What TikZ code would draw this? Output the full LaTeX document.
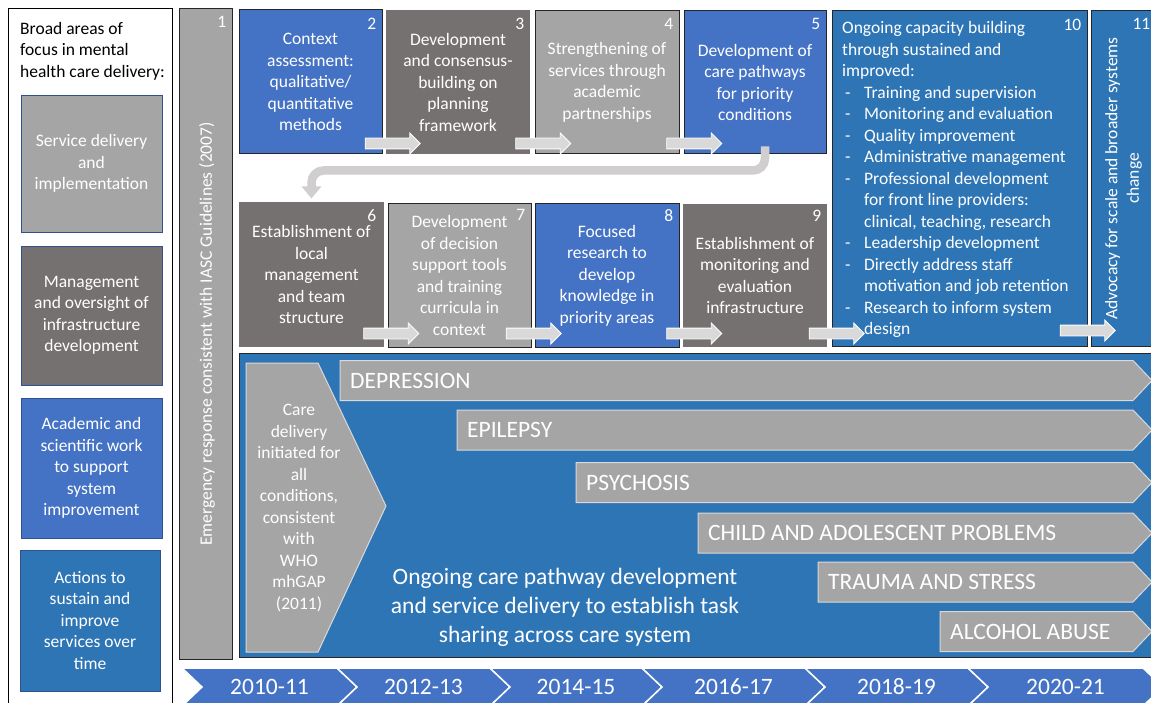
\documentclass[tikz,border=0pt]{standalone}
\usepackage{fontspec}
\setmainfont{Carlito}
\usetikzlibrary{shapes.arrows,arrows.meta}

\definecolor{accblue}{HTML}{4472C4}
\definecolor{deepblue}{HTML}{2E75B6}
\definecolor{darkgrey}{HTML}{767171}
\definecolor{midgrey}{HTML}{A5A5A5}
\definecolor{palegrey}{HTML}{D9D9D9}
\definecolor{turngrey}{HTML}{D0CECE}
\definecolor{edgeblue}{HTML}{2F528F}
\definecolor{edgedark}{HTML}{262626}

\newcommand{\boxfont}{\fontsize{17.5}{21.5}\selectfont}
\newcommand{\bigfont}{\fontsize{23.5}{29}\selectfont}
\newcommand{\dashitem}{\makebox[22pt][l]{\hspace{3pt}-}}
\newcommand{\hangitem}{\hspace*{22pt}}

\tikzset{
  stage/.style={draw=edgedark, line width=1pt, inner sep=0pt, align=center, text=white,
    font=\boxfont, minimum width=144pt, minimum height=143pt},
  plainstage/.style={stage, draw=none},
  legend/.style={draw=edgeblue, line width=0.8pt, inner sep=0pt, align=center, text=white,
    font=\boxfont, minimum width=141pt},
  num/.style={anchor=north east, inner sep=0pt, text=white, font=\boxfont},
  fwd/.style={single arrow, fill=palegrey, draw=white, line width=0.8pt, inner sep=5pt,
    single arrow head extend=5pt, minimum height=55pt},
  uturn/.style={draw=turngrey, line width=8.5pt, rounded corners=12pt},
  cond/.style={fill=midgrey, draw=palegrey, line width=1pt},
  condtext/.style={anchor=west, inner sep=0pt, text=white, font=\bigfont},
  year/.style={fill=accblue, draw=white, line width=1.5pt},
}

\begin{document}
\begin{tikzpicture}[x=1pt,y=-1pt]
\useasboundingbox (0,0) rectangle (1151,703);

% legend column
\draw[line width=1pt] (8,9) rectangle (172,712);
\node[anchor=west, align=left, inner sep=0pt, font=\boxfont] (head) at (20,51)
  {Broad areas of\\focus in mental\\health care delivery:};
\node[legend, fill=midgrey, minimum height=137pt] (l1) at (91.5,163.5) {Service delivery\\and\\implementation};
\node[legend, fill=darkgrey, minimum height=139pt] (l2) at (91.5,315.5) {Management\\and oversight of\\infrastructure\\development};
\node[legend, fill=accblue, minimum height=140pt] (l3) at (91.5,468) {Academic and\\scientific work\\to support\\system\\improvement};
\node[legend, fill=deepblue, minimum height=141pt, minimum width=140pt] (l4) at (90,620.5) {Actions to\\sustain and\\improve\\services over\\time};

% step 1
\node[stage, fill=midgrey, minimum width=53pt, minimum height=650pt] (b1) at (205.5,334) {};
\node[rotate=90, inner sep=0pt, text=white, font=\boxfont] (t1) at ([xshift=1.5pt]b1.center)
  {Emergency response consistent with IASC Guidelines (2007)};

% top row
\node[stage, fill=accblue, minimum width=143pt, minimum height=144pt] (b2) at (310.5,82)
  {Context\\assessment:\\qualitative/\\quantitative\\methods};
\node[plainstage, fill=darkgrey, minimum height=144pt] (b3) at (458,82)
  {Development\\and consensus-\\building on\\planning\\framework};
\node[stage, fill=midgrey] (b4) at (607,82.5)
  {Strengthening of\\services through\\academic\\partnerships};
\node[stage, fill=accblue, minimum width=142pt] (b5) at (755,82.5)
  {Development of\\care pathways\\for priority\\conditions};

% second row
\node[plainstage, fill=darkgrey, minimum width=145pt, minimum height=145pt] (b6) at (311.5,274.5)
  {Establishment of\\local\\management\\and team\\structure};
\node[stage, fill=midgrey, minimum width=143pt] (b7) at (459.5,275.5)
  {Development\\of decision\\support tools\\and training\\curricula in\\context};
\node[stage, fill=accblue] (b8) at (607,275.5)
  {Focused\\research to\\develop\\knowledge in\\priority areas};
\node[plainstage, fill=darkgrey] (b9) at (755,275.5)
  {Establishment of\\monitoring and\\evaluation\\infrastructure};

% steps 10 and 11
\node[stage, fill=deepblue, minimum width=255pt, minimum height=335pt] (b10) at (959.5,178.5) {};
\node[anchor=west, align=left, inner sep=0pt, text=white, font=\boxfont] (t10) at (842,179.5)
  {Ongoing capacity building\\through sustained and\\improved:\\
   \dashitem Training and supervision\\
   \dashitem Monitoring and evaluation\\
   \dashitem Quality improvement\\
   \dashitem Administrative management\\
   \dashitem Professional development\\
   \hangitem for front line providers:\\
   \hangitem clinical, teaching, research\\
   \dashitem Leadership development\\
   \dashitem Directly address staff\\
   \hangitem motivation and job retention\\
   \dashitem Research to inform system\\
   \hangitem design};
\node[stage, fill=deepblue, minimum width=65pt, minimum height=335pt] (b11) at (1123.5,178.5) {};
\node[rotate=90, align=center, inner sep=0pt, text=white, font=\boxfont] (t11) at (b11.center)
  {Advocacy for scale and broader systems\\change};

% step numbers
\node[num] (n1) at ([xshift=-6pt,yshift=-8pt]b1.north east) {1};
\node[num] (n2) at ([xshift=-6pt,yshift=-8pt]b2.north east) {2};
\node[num] (n3) at ([xshift=-6pt,yshift=-8pt]b3.north east) {3};
\node[num] (n4) at ([xshift=-6pt,yshift=-8pt]b4.north east) {4};
\node[num] (n5) at ([xshift=-6pt,yshift=-8pt]b5.north east) {5};
\node[num] (n6) at ([xshift=-8pt,yshift=-8pt]b6.north east) {6};
\node[num] (n7) at ([xshift=-6pt,yshift=-6pt]b7.north east) {7};
\node[num] (n8) at ([xshift=-6pt,yshift=-6pt]b8.north east) {8};
\node[num] (n9) at ([xshift=-6pt,yshift=-6pt]b9.north east) {9};
\node[num] (n10) at ([xshift=-6pt,yshift=-8pt]b10.north east) {10};
\node[num] (n11) at ([xshift=-6pt,yshift=-8pt]b11.north east) {11};

% arrows between steps
\node[fwd] (a23) at ([xshift=7.5pt,yshift=11pt]b2.south east) {};
\node[fwd] (a34) at ([xshift=10pt,yshift=11pt]b3.south east) {};
\node[fwd] (a45) at ([xshift=12pt,yshift=11pt]b4.south east) {};
\node[fwd] (a67) at ([xshift=4pt,yshift=14pt]b6.south east) {};
\node[fwd] (a78) at ([xshift=-0.5pt,yshift=14pt]b7.south east) {};
\node[fwd] (a89) at ([xshift=12pt,yshift=14pt]b8.south east) {};
\node[fwd] (a910) at ([xshift=6.5pt,yshift=14pt]b9.south east) {};
\node[fwd] (a1011) at ([xshift=-2.5pt,yshift=16pt]b10.south east) {};
\draw[uturn, -{Triangle[width=19pt,length=12pt]}, shorten >=3pt]
  ([xshift=10pt,yshift=8pt]b5.south) |- ([yshift=31pt]b6.north) -- (b6.north);

% care delivery panel
\node[stage, fill=deepblue, anchor=north west, minimum width=925pt, minimum height=304pt] (pan) at (239,353) {};
\draw[fill=midgrey, draw=palegrey, line width=1pt] (246,363) -- (318,363) -- (386,506) -- (318,652) -- (246,652) -- cycle;
\node[align=center, inner sep=0pt, text=white, font=\boxfont] (care) at (299,508)
  {Care\\delivery\\initiated for\\all\\conditions,\\consistent\\with\\WHO\\mhGAP\\(2011)};
\foreach \x/\y/\t [count=\i] in {340/380.5/DEPRESSION, 457/430/EPILEPSY, 576/482.5/PSYCHOSIS,
    698/533/CHILD AND ADOLESCENT PROBLEMS, 818/582/TRAUMA AND STRESS, 940/631.5/ALCOHOL ABUSE} {
  \draw[cond] (\x,\y-20) -- (1133,\y-20) -- (1152,\y) -- (1133,\y+20) -- (\x,\y+20) -- cycle;
  \node[condtext] (c\i) at (\x+10,\y) {\t};
}
\node[align=center, inner sep=0pt, text=white, font=\bigfont] (ongoing) at (565,607)
  {Ongoing care pathway development\\and service delivery to establish task\\sharing across care system};

% timeline
\foreach \xa/\xb/\yr [count=\i] in {182/337/2010-11, 337/490/2012-13, 490/642/2014-15,
    642/805/2016-17, 805/968/2018-19, 968/1143/2020-21} {
  \draw[year] (\xa,668) -- (\xb,668) -- (\xb+20,687) -- (\xb,706) -- (\xa,706) -- (\xa+20,687) -- cycle;
  \node[text=white, inner sep=0pt, font=\bigfont] (y\i) at ({(\xa+\xb)/2+10},687) {\yr};
}
\end{tikzpicture}
\end{document}
